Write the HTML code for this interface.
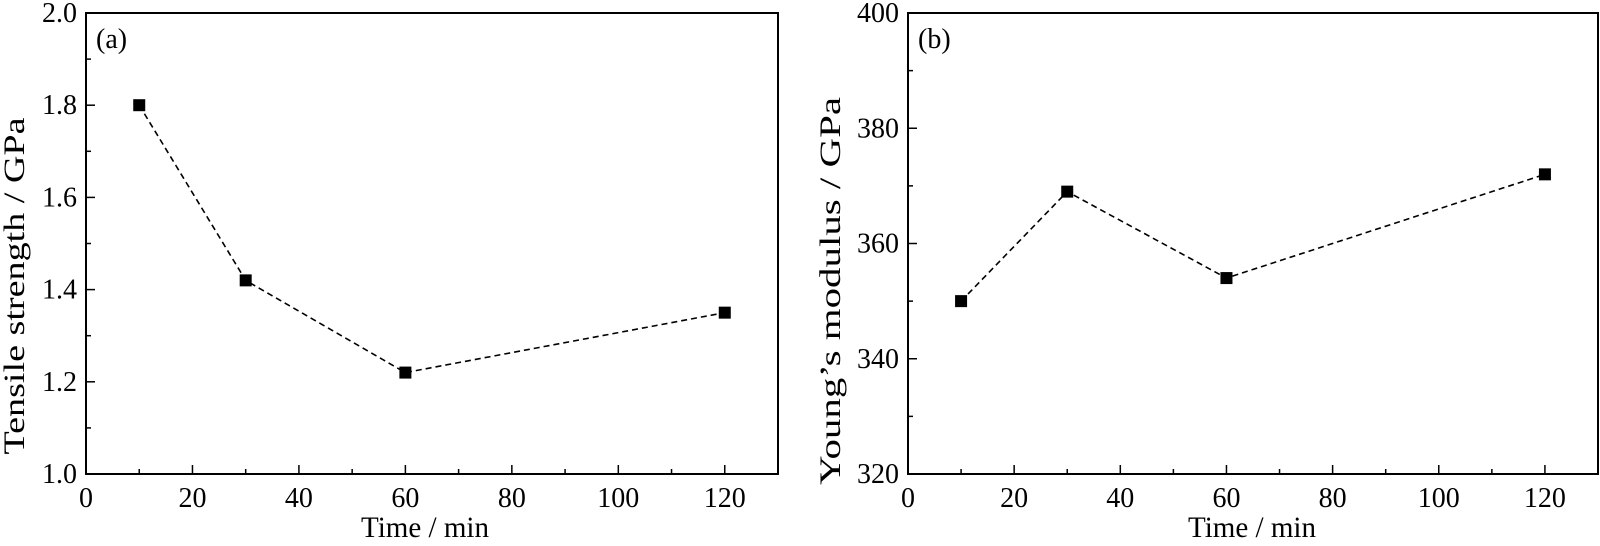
<!DOCTYPE html>
<html><head><meta charset="utf-8"><style>
html,body{margin:0;padding:0;background:#fff;}
svg text{font-family:"Liberation Serif",serif;fill:#000;}
</style></head><body>
<svg id="chart" width="1600" height="541" xmlns="http://www.w3.org/2000/svg"></svg>
<script>
const categories = [10, 30, 60, 120];
const tensileValues = [1.80, 1.42, 1.22, 1.35];
const modulusValues = [350, 369, 354, 372];
const xTickLabels = [0, 20, 40, 60, 80, 100, 120];
const tensileTicks = [1.0, 1.2, 1.4, 1.6, 1.8, 2.0];
const modulusTicks = [320, 340, 360, 380, 400];

const svg = document.getElementById('chart');
const NS = 'http://www.w3.org/2000/svg';
function mk(tag, attrs, parent){
  const e = document.createElementNS(NS, tag);
  for (const k in attrs) e.setAttribute(k, attrs[k]);
  (parent||svg).appendChild(e);
  return e;
}

function panel(cfg){
  const g = mk('g', {});
  
  
  const xs = v => cfg.x0 + v / 130 * (cfg.x1 - cfg.x0);
  const ys = v => cfg.y1 - (v - cfg.ymin) / (cfg.ymax - cfg.ymin) * (cfg.y1 - cfg.y0);
  const frame = mk('rect', {x:cfg.x0, y:cfg.y0, width:cfg.x1-cfg.x0, height:cfg.y1-cfg.y0, fill:'none', stroke:'#000', 'stroke-width':2}, g);
  
  
  for (let v = 0; v <= 130; v += 10){
    const major = v % 20 === 0;
    mk('line', {x1:xs(v), x2:xs(v), y1:cfg.y1, y2:cfg.y1-(major?9:5), stroke:'#000', 'stroke-width':1.5}, g);
  }
  xTickLabels.forEach(v => {
    const t = mk('text', {x:xs(v), y:cfg.y1+33, 'font-size':28, 'text-anchor':'middle'}, g);
    t.textContent = v;
    
    
  });
  const ticks = cfg.ticks;
  const step = ticks[1]-ticks[0];
  for (let i = 0; i < ticks.length; i++){
    const v = ticks[i];
    mk('line', {x1:cfg.x0, x2:cfg.x0+9, y1:ys(v), y2:ys(v), stroke:'#000', 'stroke-width':1.5}, g);
    if (i < ticks.length-1) mk('line', {x1:cfg.x0, x2:cfg.x0+5, y1:ys(v+step/2), y2:ys(v+step/2), stroke:'#000', 'stroke-width':1.5}, g);
    const t = mk('text', {x:cfg.x0-9, y:ys(v)+9, 'font-size':28, 'text-anchor':'end'}, g);
    t.textContent = cfg.fmt(v);
    
    
  }
  const xt = mk('text', {x:cfg.xtc, y:537, 'font-size':30, 'text-anchor':'middle', textLength:128, lengthAdjust:'spacingAndGlyphs'}, g);
  xt.textContent = 'Time / min';
  
  
  const yt = mk('text', {x:0, y:0, 'font-size':30, 'text-anchor':'middle', textLength:cfg.ytl, lengthAdjust:'spacingAndGlyphs', transform:`translate(${cfg.ytx},${cfg.ytc}) rotate(-90)`}, g);
  yt.textContent = cfg.ytitle;
  
  
  const lb = mk('text', {x:cfg.x0+10, y:cfg.y0+35, 'font-size':28}, g);
  lb.textContent = cfg.label;
  
  
  const pts = categories.map((c,i)=>xs(c)+','+ys(cfg.values[i])).join(' ');
  const line = mk('polyline', {points:pts, fill:'none', stroke:'#000', 'stroke-width':1.6, 'stroke-dasharray':'6,4'}, g);
  
  
  categories.forEach((c,i)=>{
    const r = mk('rect', {x:xs(c)-6, y:ys(cfg.values[i])-6, width:12, height:12, fill:'#000'}, g);
    
    
  });
}

panel({name:'panel-a-tensile-strength', x0:86, x1:778, y0:13, y1:474, ymin:1.0, ymax:2.0, ticks:tensileTicks,
  values:tensileValues, fmt:v=>v.toFixed(1), ytitle:'Tensile strength / GPa', ytx:24, ytc:286, ytl:337, xtc:425, label:'(a)'});
panel({name:'panel-b-youngs-modulus', x0:908, x1:1598, y0:13, y1:474, ymin:320, ymax:400, ticks:modulusTicks,
  values:modulusValues, fmt:v=>String(v), ytitle:'Young\u2019s modulus / GPa', ytx:840, ytc:291, ytl:388, xtc:1252, label:'(b)'});
</script>
</body></html>
